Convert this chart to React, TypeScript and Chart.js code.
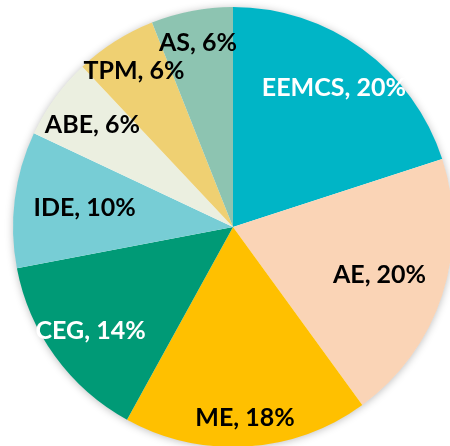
import React, { useEffect, useRef } from "react";
import { Chart, registerables } from "chart.js";

Chart.register(...registerables);

const categories = ["EEMCS", "AE", "ME", "CEG", "IDE", "ABE", "TPM", "AS"];
const shares = [20, 20, 18, 14, 10, 6, 6, 6];

const sliceColors = ["#00B5C6", "#FAD4B6", "#FFC000", "#009A76", "#77CDD5", "#EBEFE0", "#EFD072", "#8DC4B1"];
const labelColors = ["#FFFFFF", "#000000", "#000000", "#FFFFFF", "#000000", "#000000", "#000000", "#000000"];
const labelRadius = [0.78, 0.7, 0.87, 0.8, 0.68, 0.79, 0.84, 0.85];

const shadowPlugin = {
  id: "pieShadow",
  beforeDatasetsDraw(chart: any) {
    const meta = chart.getDatasetMeta(0);
    const arc = meta.data[0];
    if (!arc) return;
    const { x, y, outerRadius } = arc.getProps(["x", "y", "outerRadius"], true);
    const ctx = chart.ctx;
    ctx.save();
    ctx.shadowColor = "rgba(0,0,0,0.28)";
    ctx.shadowBlur = 8;
    ctx.shadowOffsetX = 0;
    ctx.shadowOffsetY = 1;
    ctx.fillStyle = "#ffffff";
    ctx.beginPath();
    ctx.arc(x, y, outerRadius - 0.5, 0, Math.PI * 2);
    ctx.fill();
    ctx.restore();
  },
};

const labelPlugin = {
  id: "sliceLabels",
  afterDatasetsDraw(chart: any) {
    const meta = chart.getDatasetMeta(0);
    const ctx = chart.ctx;
    const values = chart.data.datasets[0].data as number[];
    ctx.save();
    ctx.font = "bold 25px Lato, 'Open Sans', sans-serif";
    ctx.textAlign = "center";
    ctx.textBaseline = "middle";
    meta.data.forEach((arc: any, i: number) => {
      const { x, y, startAngle, endAngle, outerRadius } = arc.getProps(
        ["x", "y", "startAngle", "endAngle", "outerRadius"],
        true
      );
      const mid = (startAngle + endAngle) / 2;
      const r = outerRadius * labelRadius[i];
      const tx = x + Math.cos(mid) * r;
      const ty = y + Math.sin(mid) * r;
      ctx.fillStyle = labelColors[i];
      ctx.fillText(`${chart.data.labels[i]}, ${values[i]}%`, tx, ty);
    });
    ctx.restore();
  },
};

export default function App() {
  const ref = useRef<HTMLCanvasElement | null>(null);
  useEffect(() => {
    document.body.style.margin = "0";
    document.body.style.overflow = "hidden";
    if (!ref.current) return;
    const chart = new Chart(ref.current, {
      type: "pie",
      data: {
        labels: categories,
        datasets: [
          {
            data: shares,
            backgroundColor: sliceColors,
            borderWidth: 0,
          },
        ],
      },
      options: {
        animation: false,
        responsive: false,
        maintainAspectRatio: false,
        layout: { padding: 7 },
        plugins: {
          legend: { display: false },
          tooltip: { enabled: false },
        },
      },
      plugins: [shadowPlugin, labelPlugin],
    });
    return () => chart.destroy();
  }, []);
  return (
    <div style={{ width: 450, height: 446, overflow: "hidden", position: "relative", background: "#fff" }}>
      <canvas ref={ref} width={466} height={454} style={{ position: "absolute", left: 0, top: 0, width: 466, height: 454 }} />
    </div>
  );
}
